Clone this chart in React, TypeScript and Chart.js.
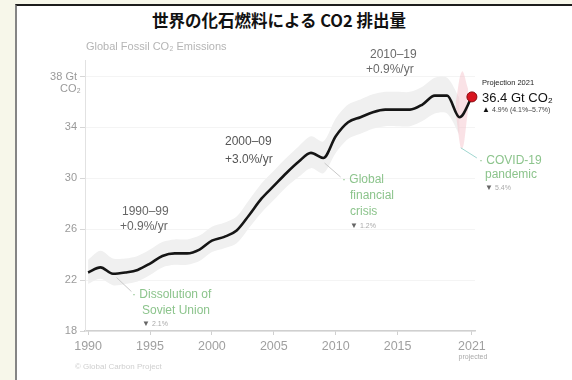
import React, { useEffect, useRef } from "react";
import { Chart, registerables } from "chart.js";

Chart.register(...registerables);

const years = [1990, 1991, 1992, 1993, 1994, 1995, 1996, 1997, 1998, 1999, 2000, 2001, 2002, 2003, 2004, 2005, 2006, 2007, 2008, 2009, 2010, 2011, 2012, 2013, 2014, 2015, 2016, 2017, 2018, 2019, 2020, 2021];
const emissions = [22.6, 23.0, 22.5, 22.6, 22.8, 23.3, 23.9, 24.1, 24.1, 24.4, 25.1, 25.4, 25.9, 27.1, 28.4, 29.4, 30.4, 31.3, 32.0, 31.6, 33.3, 34.4, 34.8, 35.2, 35.4, 35.4, 35.4, 35.8, 36.5, 36.5, 34.8, 36.4];
const bandUpper = [23.6, 24.3, 23.7, 23.7, 23.9, 24.4, 25.0, 25.2, 25.2, 25.5, 26.2, 26.5, 27.0, 28.3, 29.6, 30.6, 31.6, 32.5, 33.3, 32.9, 34.7, 35.8, 36.2, 36.6, 36.8, 36.8, 36.8, 37.2, 37.9, 37.9, 36.3];
const bandLower = [21.7, 22.1, 21.6, 21.7, 21.9, 22.4, 23.0, 23.2, 23.2, 23.5, 24.2, 24.5, 24.9, 26.1, 27.3, 28.3, 29.3, 30.1, 30.8, 30.4, 32.0, 33.1, 33.5, 33.9, 34.1, 34.1, 34.1, 34.5, 35.1, 35.1, 33.4];
const projYears = [2019.7, 2020.2, 2020.7];
const projUpper = [36.0, 38.4, 37.0];
const projLower = [35.0, 32.3, 35.4];
const xTicks = [1990, 1995, 2000, 2005, 2010, 2015, 2021];
const yTicks = [18, 22, 26, 30, 34, 38];
const projection2021 = 36.4;

const FONT = "'Liberation Sans', Arial, sans-serif";
const GREEN = "#8cc48c";

const pts = (xs: number[], ys: number[]) => ys.map((y, i) => ({ x: xs[i], y }));

const annotations = {
  id: "annotations",
  afterDatasetsDraw(chart: any) {
    const ctx = chart.ctx;
    ctx.save();
    ctx.textBaseline = "middle";
    ctx.textAlign = "left";
    const t = (s: string, x: number, y: number, size: number, color: string, weight = "normal") => {
      ctx.font = `${weight} ${size}px ${FONT}`;
      ctx.fillStyle = color;
      ctx.fillText(s, x, y);
    };
    t("Global Fossil CO\u2082 Emissions", 86, 47, 11, "#b5b5b5");
    t("CO\u2082", 60, 89, 11, "#9a9a9a");
    t("2010\u201319", 370, 55, 12, "#6a6a6a");
    t("+0.9%/yr", 366, 70, 12, "#6a6a6a");
    t("2000\u201309", 225, 142, 12, "#555");
    t("+3.0%/yr", 225, 160, 12, "#555");
    t("1990\u201399", 122, 212, 12, "#666");
    t("+0.9%/yr", 120, 227, 12, "#666");
    t("\u00b7 Dissolution of", 132, 295, 12, GREEN);
    t("Soviet Union", 142, 311, 12, GREEN);
    t("\u25bc", 142, 324, 8, "#666");
    t("2.1%", 152, 324, 7, "#aaa");
    t("\u00b7 Global", 342, 180, 12, GREEN);
    t("financial", 350, 196, 12, GREEN);
    t("crisis", 350, 212, 12, GREEN);
    t("\u25bc", 350, 226, 8, "#666");
    t("1.2%", 360, 226, 7, "#aaa");
    t("\u00b7 COVID-19", 479, 161, 12, GREEN);
    t("pandemic", 485, 175, 12, GREEN);
    t("\u25bc", 485, 188, 8, "#666");
    t("5.4%", 495, 188, 7, "#aaa");
    t("Projection 2021", 482, 83, 7.5, "#222");
    t("36.4 Gt CO\u2082", 482, 98, 13, "#111");
    t("\u25b2", 482, 110, 8, "#111");
    t("4.9% (4.1%\u20135.7%)", 492, 110, 7, "#444");
    t("\u00a9 Global Carbon Project", 75, 367, 8, "#cfcfcf");
    ctx.textAlign = "center";
    t("projected", 473, 357, 7, "#aaa");
    ctx.restore();
  },
};

export default function App() {
  const ref = useRef<HTMLCanvasElement>(null);
  useEffect(() => {
    if (!ref.current) return;
    const chart = new Chart(ref.current, {
      type: "line",
      data: {
        datasets: [
          { order: 9, data: pts(years, bandUpper), fill: "+1", backgroundColor: "#f0f0f0", borderWidth: 0, pointRadius: 0, tension: 0.3 },
          { order: 9, data: pts(years, bandLower), fill: false, borderWidth: 0, pointRadius: 0, tension: 0.3 },
          { order: 8, data: pts(projYears, projUpper), fill: "+1", backgroundColor: "rgba(244,190,200,0.45)", borderWidth: 0, pointRadius: 0, tension: 0.4, clip: false },
          { order: 8, data: pts(projYears, projLower), fill: false, borderWidth: 0, pointRadius: 0, tension: 0.4, clip: false },
          { order: 5, data: [{ x: 1992.3, y: 22.2 }, { x: 1993.5, y: 21.1 }], borderColor: "#c8c8c8", borderWidth: 1, pointRadius: 0, fill: false },
          { order: 5, data: [{ x: 2009.1, y: 31.2 }, { x: 2010.4, y: 30.1 }], borderColor: "#c8c8c8", borderWidth: 1, pointRadius: 0, fill: false },
          { order: 5, data: [{ x: 2020.1, y: 32.4 }, { x: 2021.4, y: 31.6 }], borderColor: "#9fd6cf", borderWidth: 1, pointRadius: 0, fill: false, clip: false },
          { order: 1, data: pts(years, emissions), borderColor: "#151515", borderWidth: 2.6, pointRadius: 0, fill: false, cubicInterpolationMode: "monotone", clip: false },
          { order: 0, data: [{ x: 2021, y: projection2021 }], pointRadius: 5, pointBackgroundColor: "#d8141f", pointBorderColor: "#8a0a10", pointBorderWidth: 1, showLine: false, clip: false },
        ],
      },
      options: {
        animation: false,
        responsive: false,
        maintainAspectRatio: false,
        layout: { padding: { top: 60, right: 97, left: 0, bottom: 0 } },
        plugins: { legend: { display: false }, tooltip: { enabled: false }, title: { display: false } },
        scales: {
          x: {
            type: "linear",
            min: 1989.75,
            max: 2021.25,
            afterBuildTicks: (s: any) => { s.ticks = xTicks.map((v) => ({ value: v })); },
            afterFit: (s: any) => { s.height = 49; },
            ticks: { callback: (v: any) => String(v), color: "#a0a0a0", font: { family: FONT, size: 12.5 }, padding: 4, maxRotation: 0, autoSkip: false },
            grid: { drawOnChartArea: false, tickLength: 4, color: "#d0d0d0" },
            border: { color: "#d0d0d0", width: 1.5 },
          },
          y: {
            min: 18,
            max: 39.3,
            afterBuildTicks: (s: any) => { s.ticks = yTicks.map((v) => ({ value: v })); },
            afterFit: (s: any) => { s.width = 85; },
            ticks: { callback: (v: any) => (v === 38 ? "38 Gt" : String(v)), color: "#9a9a9a", font: { family: FONT, size: 11 }, padding: 3 },
            grid: { color: "rgba(0,0,0,0.045)", tickLength: 5, tickColor: "#d6d6d6" },
            border: { color: "#e2e2e2", width: 1 },
          },
        },
      },
      plugins: [annotations],
    });
    return () => chart.destroy();
  }, []);

  return (
    <div style={{ position: "fixed", left: 0, top: 0, width: 572, height: 380, background: "#f7f7ea", overflow: "hidden" }}>
      <div style={{ position: "absolute", left: 15, top: 4, right: 0, bottom: 0, background: "#fff", borderTop: "2px solid #1c1c1c", borderLeft: "2px solid #858585" }} />
      <div style={{ position: "absolute", left: 0, top: 9, width: 558, textAlign: "center", fontFamily: "'Noto Sans CJK JP', sans-serif", fontWeight: 700, fontSize: 16.5, lineHeight: "22px", color: "#111" }}>
        世界の化石燃料による CO2 排出量
      </div>
      <canvas ref={ref} width={572} height={380} style={{ position: "absolute", left: 0, top: 0, width: 572, height: 380 }} />
    </div>
  );
}
